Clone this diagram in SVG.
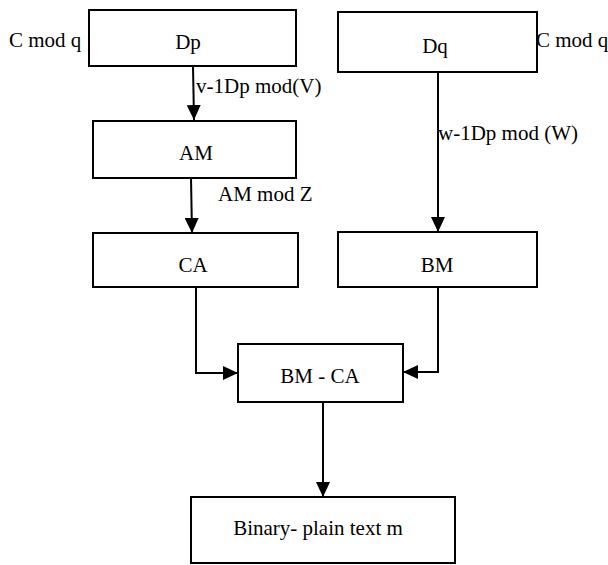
<svg xmlns="http://www.w3.org/2000/svg" width="608" height="565" viewBox="0 0 608 565">
<defs>
<marker id="ah" markerWidth="15" markerHeight="14" refX="15" refY="7" orient="auto" markerUnits="userSpaceOnUse">
<path d="M0,0 L15,7 L0,14 Z" fill="#000"/>
</marker>
<style>
.box{fill:#fff;stroke:#000;stroke-width:2}
text{font-family:'Liberation Serif','Times New Roman',serif;font-size:21px;fill:#000}
.c{text-anchor:middle}
.ln{fill:none;stroke:#000;stroke-width:2}
</style>
</defs>
<rect width="608" height="565" fill="#fff"/>
<g id="connectors">
<line class="ln" x1="193" y1="66" x2="194" y2="120" marker-end="url(#ah)"/>
<line class="ln" x1="191" y1="178" x2="192" y2="233" marker-end="url(#ah)"/>
<line class="ln" x1="438" y1="72" x2="438" y2="232" marker-end="url(#ah)"/>
<polyline class="ln" points="196,287 196,373 238,373" marker-end="url(#ah)"/>
<polyline class="ln" points="438,287 438,372 403,372" marker-end="url(#ah)"/>
<line class="ln" x1="323" y1="402" x2="323" y2="497" marker-end="url(#ah)"/>
<text x="196" y="93">v-1Dp mod(V)</text>
<text x="438" y="140">w-1Dp mod (W)</text>
<text x="218" y="201">AM mod Z</text>
</g>
<g id="Dp">
<rect class="box" x="89" y="10" width="207" height="56"/>
<text class="c" x="188" y="49">Dp</text>
<text x="9" y="47">C mod q</text>
</g>
<g id="Dq">
<rect class="box" x="338" y="12" width="199" height="60"/>
<text class="c" x="435" y="53">Dq</text>
<text x="536" y="47">C mod q</text>
</g>
<g id="AM">
<rect class="box" x="93" y="121" width="203" height="57"/>
<text class="c" x="196" y="160">AM</text>
</g>
<g id="CA">
<rect class="box" x="93" y="233" width="205" height="54"/>
<text class="c" x="193" y="272">CA</text>
</g>
<g id="BM">
<rect class="box" x="338" y="232" width="199" height="55"/>
<text class="c" x="437" y="272">BM</text>
</g>
<g id="BM-CA">
<rect class="box" x="238" y="344" width="165" height="58"/>
<text class="c" x="320" y="383">BM - CA</text>
</g>
<g id="Binary">
<rect class="box" x="191" y="497" width="264" height="66"/>
<text class="c" x="318" y="535">Binary- plain text m</text>
</g>
</svg>
